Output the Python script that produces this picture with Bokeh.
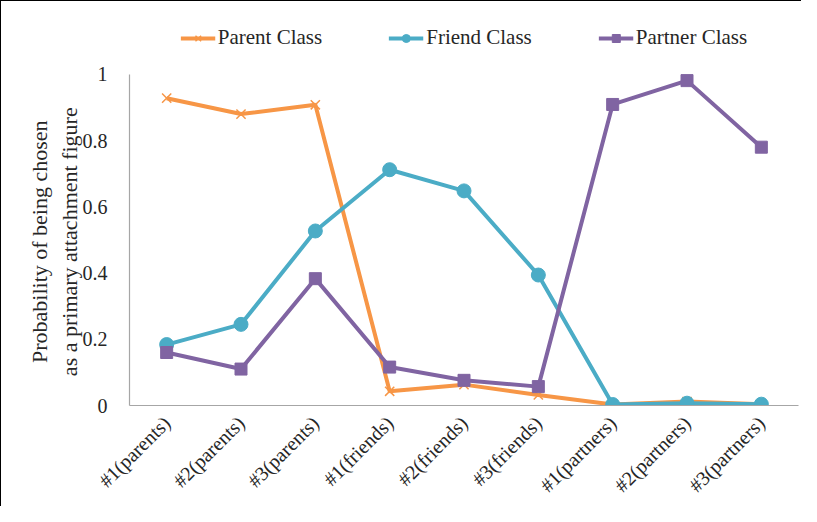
from math import pi
from bokeh.plotting import figure
from bokeh.models import FactorRange, Range1d, FixedTicker, Legend, LegendItem
from bokeh.embed import file_html
from bokeh.resources import INLINE

categories = ["#1(parents)", "#2(parents)", "#3(parents)",
              "#1(friends)", "#2(friends)", "#3(friends)",
              "#1(partners)", "#2(partners)", "#3(partners)"]
parent_class = [0.928, 0.880, 0.908, 0.043, 0.063, 0.032, 0.003, 0.012, 0.004]
friend_class = [0.184, 0.245, 0.527, 0.712, 0.648, 0.394, 0.003, 0.007, 0.004]
partner_class = [0.160, 0.110, 0.383, 0.116, 0.076, 0.057, 0.909, 0.981, 0.780]
y_ticks = [0, 0.2, 0.4, 0.6, 0.8, 1]
y_tick_labels = ["0", "0.2", "0.4", "0.6", "0.8", "1"]
y_title_lines = ["Probability of being chosen", "as a primary attachment figure"]

ORANGE = "#F79646"
TEAL = "#4BACC6"
PURPLE = "#8064A2"
FONT = "Liberation Serif"

# frame spans 400 px; 1 data unit = 332 px, so the top leaves room for the legend
p = figure(width=801, height=506, x_range=FactorRange(*categories, range_padding=0),
           y_range=Range1d(0, 400 / 332), output_backend="svg", toolbar_location=None,
           min_border_left=128, min_border_right=4, min_border_top=5, min_border_bottom=101)
p.styles = {"border-left": "1px solid black", "border-top": "1px solid black"}
p.outline_line_color = None
p.xgrid.grid_line_color = None
p.ygrid.grid_line_color = None

lines = []
for vals, col, marker, size, lw in [
    (parent_class, ORANGE, "x", 13, 1.5),
    (friend_class, TEAL, "circle", 14, 1),
    (partner_class, PURPLE, "square", 12, 1),
]:
    lr = p.line(categories, vals, line_color=col, line_width=4)
    sr = p.scatter(categories, vals, marker=marker, size=size, fill_color=col,
                   line_color=col, line_width=lw)
    lines.append((lr, sr))

legend = Legend(items=[
    LegendItem(label="Parent Class", renderers=list(lines[0])),
    LegendItem(label="Friend Class", renderers=list(lines[1])),
    LegendItem(label="Partner Class", renderers=list(lines[2])),
], orientation="horizontal", location="top_center")
legend.label_text_font = FONT
legend.label_text_font_size = "21px"
legend.label_text_color = "#262626"
legend.glyph_width = 35
legend.label_standoff = 3
legend.spacing = 66
legend.border_line_color = None
legend.background_fill_alpha = 0
legend.padding = 4
legend.margin = 19
p.add_layout(legend)

# trailing no-break spaces centre the title on the 0..1 part of the axis
pad = "\u00a0" * 13
p.yaxis.ticker = FixedTicker(ticks=y_ticks)
p.yaxis.bounds = (0, 1)
p.yaxis.major_label_overrides = {t: l for t, l in zip(y_ticks, y_tick_labels)}
p.yaxis.axis_label = "\n".join(line + pad for line in y_title_lines)
p.yaxis.axis_label_text_font = FONT
p.yaxis.axis_label_text_font_size = "22px"
p.yaxis.axis_label_text_font_style = "normal"
p.yaxis.axis_label_text_color = "#262626"
p.yaxis.axis_label_standoff = -2

for ax in (p.xaxis, p.yaxis):
    ax.major_label_text_font = FONT
    ax.major_label_text_font_size = "20px"
    ax.major_label_text_color = "#262626"
    ax.major_tick_line_color = None
    ax.minor_tick_line_color = None
    ax.axis_line_color = "#A6A6A6"
    ax.axis_line_width = 1.2
p.yaxis.major_label_standoff = 16
p.xaxis.major_label_orientation = pi / 4
p.xaxis.major_label_standoff = 8

open("out.html", "w").write(file_html(p, INLINE))
